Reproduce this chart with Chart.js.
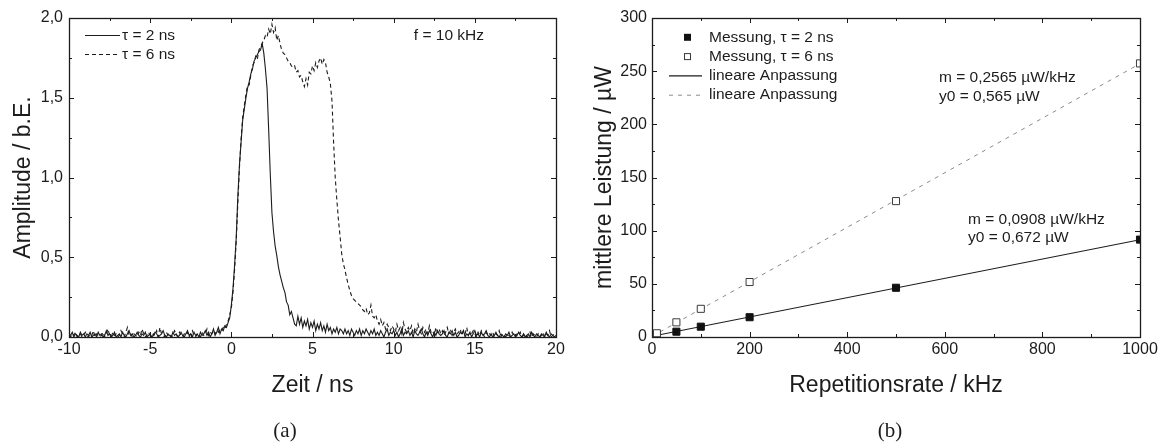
<!DOCTYPE html>
<html>
<head>
<meta charset="utf-8">
<title>Pulsform und mittlere Leistung</title>
<script src="https://cdn.jsdelivr.net/npm/chart.js@4.4.0/dist/chart.umd.min.js"></script>
<style>
  html, body { margin: 0; padding: 0; background: #fff; }
  .panel { position: absolute; top: 0; width: 581px; height: 448px; }
  #panel-a { left: 0; }
  #panel-b { left: 581px; }
</style>
</head>
<body>
<div class="panel" id="panel-a"><canvas id="chart-pulse" width="581" height="448"></canvas></div>
<div class="panel" id="panel-b"><canvas id="chart-power" width="581" height="448"></canvas></div>
<script>
// ---------- (a) Pulsform, abgetastet alle 0,1 ns ab -10 ns ----------
const TIME_START = -10;
const TIME_STEP = 0.1;
const TICKS_TIME = [-10, -5, 0, 5, 10, 15, 20];
const TICKS_AMP = [0, 0.5, 1.0, 1.5, 2.0];

// tau = 2 ns, one row per nanosecond
const AMP_TAU2 = [
  0.02,0.01,0.03,0.00,0.02,0.01,0.00,0.03,0.01,0.02,
  0.00,0.02,0.01,0.03,0.00,0.01,0.02,0.00,0.03,0.01,
  0.02,0.00,0.01,0.04,0.01,0.02,0.00,0.01,0.03,0.00,
  0.01,0.02,0.00,0.03,0.01,0.00,0.02,0.04,0.01,0.02,
  0.00,0.01,0.03,0.01,0.00,0.02,0.01,0.03,0.00,0.01,
  0.02,0.00,0.01,0.03,0.02,0.00,0.01,0.02,0.04,0.01,
  0.00,0.02,0.01,0.00,0.03,0.01,0.02,0.00,0.01,0.03,
  0.01,0.00,0.02,0.04,0.01,0.02,0.00,0.03,0.01,0.02,
  0.00,0.03,0.01,0.02,0.04,0.01,0.03,0.00,0.02,0.05,
  0.01,0.03,0.06,0.02,0.05,0.04,0.07,0.06,0.09,0.12,
  0.20,0.30,0.45,0.62,0.88,1.08,1.22,1.36,1.43,1.50,
  1.56,1.60,1.65,1.68,1.73,1.75,1.77,1.79,1.80,1.84,
  1.78,1.68,1.56,1.30,1.02,0.78,0.66,0.57,0.51,0.44,
  0.39,0.35,0.31,0.28,0.22,0.20,0.14,0.16,0.12,0.08,
  0.07,0.13,0.08,0.12,0.06,0.10,0.07,0.11,0.05,0.09,
  0.06,0.10,0.04,0.08,0.05,0.09,0.04,0.07,0.03,0.08,
  0.04,0.06,0.02,0.05,0.03,0.06,0.02,0.05,0.04,0.02,
  0.05,0.02,0.04,0.01,0.05,0.03,0.01,0.04,0.02,0.05,
  0.01,0.04,0.02,0.05,0.03,0.01,0.04,0.02,0.05,0.01,
  0.03,0.01,0.04,0.02,0.00,0.03,0.05,0.01,0.03,0.02,
  0.04,0.01,0.03,0.00,0.02,0.05,0.01,0.03,0.02,0.04,
  0.01,0.03,0.00,0.04,0.02,0.01,0.03,0.05,0.02,0.00,
  0.03,0.01,0.04,0.02,0.00,0.03,0.01,0.04,0.02,0.01,
  0.02,0.04,0.01,0.00,0.03,0.02,0.04,0.01,0.03,0.00,
  0.01,0.03,0.02,0.04,0.00,0.02,0.01,0.03,0.00,0.02,
  0.04,0.01,0.02,0.00,0.03,0.01,0.02,0.04,0.01,0.00,
  0.02,0.00,0.01,0.03,0.01,0.00,0.02,0.01,0.00,0.02,
  0.01,0.03,0.00,0.01,0.02,0.00,0.01,0.03,0.01,0.00,
  0.02,0.00,0.01,0.02,0.00,0.03,0.01,0.00,0.02,0.01,
  0.00,0.02,0.01,0.00,0.03,0.01,0.00,0.02,0.01,0.00,
  0.01
];

// tau = 6 ns
const AMP_TAU6 = [
  0.01,0.00,0.02,0.01,0.03,0.00,0.01,0.02,0.00,0.01,
  0.03,0.01,0.00,0.02,0.01,0.04,0.00,0.02,0.01,0.00,
  0.01,0.03,0.00,0.02,0.05,0.01,0.00,0.03,0.01,0.02,
  0.00,0.01,0.04,0.02,0.00,0.03,0.06,0.01,0.02,0.00,
  0.02,0.01,0.00,0.03,0.01,0.05,0.02,0.00,0.01,0.03,
  0.01,0.00,0.02,0.01,0.04,0.00,0.06,0.02,0.01,0.00,
  0.03,0.01,0.02,0.00,0.01,0.04,0.02,0.00,0.03,0.01,
  0.00,0.02,0.01,0.03,0.00,0.02,0.04,0.01,0.00,0.02,
  0.01,0.00,0.03,0.01,0.02,0.05,0.01,0.03,0.02,0.04,
  0.02,0.04,0.03,0.05,0.04,0.06,0.05,0.08,0.10,0.14,
  0.18,0.28,0.42,0.60,0.84,1.06,1.24,1.38,1.45,1.52,
  1.58,1.58,1.64,1.70,1.72,1.76,1.74,1.80,1.82,1.84,
  1.86,1.89,1.88,1.93,1.90,1.96,1.91,1.94,1.86,1.89,
  1.84,1.80,1.78,1.77,1.75,1.73,1.72,1.70,1.69,1.70,
  1.66,1.67,1.63,1.64,1.60,1.57,1.62,1.58,1.66,1.65,
  1.70,1.67,1.72,1.69,1.73,1.75,1.71,1.74,1.72,1.66,
  1.63,1.59,1.48,1.22,1.00,0.86,0.73,0.63,0.52,0.46,
  0.42,0.37,0.33,0.29,0.26,0.24,0.23,0.22,0.21,0.20,
  0.19,0.17,0.16,0.18,0.14,0.15,0.20,0.13,0.12,0.14,
  0.10,0.08,0.11,0.07,0.09,0.05,0.08,0.06,0.04,0.07,
  0.05,0.03,0.08,0.04,0.06,0.02,0.09,0.05,0.03,0.06,
  0.04,0.07,0.02,0.05,0.03,0.08,0.04,0.02,0.06,0.03,
  0.05,0.02,0.07,0.03,0.04,0.01,0.06,0.03,0.05,0.02,
  0.04,0.01,0.03,0.06,0.02,0.04,0.01,0.03,0.05,0.02,
  0.03,0.05,0.01,0.04,0.02,0.06,0.01,0.03,0.02,0.04,
  0.02,0.00,0.03,0.01,0.04,0.02,0.00,0.03,0.01,0.02,
  0.01,0.03,0.00,0.02,0.01,0.04,0.00,0.02,0.01,0.00,
  0.02,0.01,0.00,0.03,0.01,0.00,0.02,0.01,0.03,0.00,
  0.01,0.02,0.00,0.01,0.03,0.00,0.02,0.01,0.00,0.02,
  0.00,0.01,0.03,0.00,0.02,0.01,0.04,0.00,0.01,0.02,
  0.01
];

// ---------- (b) mittlere Leistung ueber Repetitionsrate ----------
const RATE_KHZ = [10, 50, 100, 200, 500, 1000];
const POWER_TAU2 = [1.5, 5.0, 9.7, 18.6, 46.3, 91.6];
const POWER_TAU6 = [3.5, 13.8, 26.5, 51.7, 127.8, 257.3];
const FIT_TAU2_M = 0.0908, FIT_TAU2_Y0 = 0.672;
const FIT_TAU6_M = 0.2565, FIT_TAU6_Y0 = 0.565;
const FIT_RANGE = [0, 1000];
const TICKS_RATE = [0, 200, 400, 600, 800, 1000];
const TICKS_POWER = [0, 50, 100, 150, 200, 250, 300];

// ---------- shared styling ----------
const FONT = '"Liberation Sans", Arial, sans-serif';
const INK = '#1c1c1c';
const LEGEND_FONT = '15.5px ' + FONT;
const DASH_CURVE = [4, 3];
const DASH_FIT = [4, 5];
const FIT_GREY = '#8a8a8a';

const comma = (v, d) => v.toFixed(d).replace('.', ',');

// closed box with inward major/minor ticks on all four sides
const framePlugin = {
  id: 'frame',
  afterDatasetsDraw(chart) {
    const { ctx, chartArea: a } = chart;
    const { x, y } = chart.scales;
    const mids = v => v.slice(1).map((w, i) => (w + v[i]) / 2);
    const xs = x.ticks.map(t => t.value);
    const ys = y.ticks.map(t => t.value);
    ctx.save();
    ctx.strokeStyle = INK;
    ctx.lineWidth = 1;
    ctx.beginPath();
    const tickX = (v, len) => {
      const p = Math.round(x.getPixelForValue(v)) + 0.5;
      ctx.moveTo(p, a.bottom); ctx.lineTo(p, a.bottom - len);
      ctx.moveTo(p, a.top); ctx.lineTo(p, a.top + len);
    };
    const tickY = (v, len) => {
      const p = Math.round(y.getPixelForValue(v)) + 0.5;
      ctx.moveTo(a.left, p); ctx.lineTo(a.left + len, p);
      ctx.moveTo(a.right, p); ctx.lineTo(a.right - len, p);
    };
    xs.forEach(v => tickX(v, 5));
    mids(xs).forEach(v => tickX(v, 3));
    ys.forEach(v => tickY(v, 5));
    mids(ys).forEach(v => tickY(v, 3));
    ctx.stroke();
    ctx.lineWidth = 1.3;
    ctx.strokeRect(Math.round(a.left) + 0.5, Math.round(a.top) + 0.5,
      Math.round(a.right - a.left), Math.round(a.bottom - a.top));
    ctx.restore();
  }
};

function textPlugin(id, draw) {
  return {
    id,
    afterDraw(chart) {
      const ctx = chart.ctx;
      ctx.save();
      ctx.fillStyle = INK;
      ctx.strokeStyle = INK;
      ctx.textBaseline = 'middle';
      ctx.font = LEGEND_FONT;
      draw(ctx);
      ctx.restore();
    }
  };
}

function caption(ctx, text, x) {
  ctx.font = '21px "Liberation Serif", "DejaVu Serif", serif';
  ctx.textAlign = 'center';
  ctx.fillText(text, x, 431);
}

function legendLine(ctx, x0, x1, y, dash, color, width) {
  ctx.save();
  ctx.strokeStyle = color;
  ctx.lineWidth = width;
  ctx.setLineDash(dash);
  ctx.beginPath();
  ctx.moveTo(x0, y); ctx.lineTo(x1, y);
  ctx.stroke();
  ctx.restore();
}

function axisTicks(values, fmt, pad) {
  return {
    font: { family: FONT, size: 16 },
    color: INK,
    padding: pad,
    maxRotation: 0,
    autoSkip: false,
    callback: fmt
  };
}

function axisTitle(text, pad) {
  return { display: true, text, color: INK, font: { family: FONT, size: 23 }, padding: pad };
}

const gridOff = { display: false, drawTicks: false };
const borderOff = { display: false };

// ---------- chart (a) ----------
const toPoints = arr => arr.map((a, i) => ({ x: TIME_START + i * TIME_STEP, y: a }));

new Chart(document.getElementById('chart-pulse'), {
  type: 'line',
  data: {
    datasets: [
      { label: 'τ = 2 ns', data: toPoints(AMP_TAU2), borderColor: INK, borderWidth: 1.1,
        pointRadius: 0, tension: 0, fill: false },
      { label: 'τ = 6 ns', data: toPoints(AMP_TAU6), borderColor: INK, borderWidth: 1.1,
        borderDash: DASH_CURVE, pointRadius: 0, tension: 0, fill: false }
    ]
  },
  options: {
    responsive: false,
    animation: false,
    events: [],
    layout: { padding: { top: 18, right: 25, left: 0, bottom: 0 } },
    plugins: { legend: { display: false }, tooltip: { enabled: false } },
    scales: {
      x: {
        type: 'linear', min: -10, max: 20,
        afterBuildTicks: s => { s.ticks = TICKS_TIME.map(v => ({ value: v })); },
        afterFit: s => { s.height = 111; },
        grid: gridOff, border: borderOff,
        ticks: axisTicks(TICKS_TIME, v => String(v), 3),
        title: axisTitle('Zeit / ns', { top: 0, bottom: 49 })
      },
      y: {
        type: 'linear', min: 0, max: 2,
        afterBuildTicks: s => { s.ticks = TICKS_AMP.map(v => ({ value: v })); },
        afterFit: s => { s.width = 69; },
        grid: gridOff, border: borderOff,
        ticks: axisTicks(TICKS_AMP, v => comma(v, 1), 6),
        title: axisTitle('Amplitude / b.E.', { top: 10, bottom: 0 })
      }
    }
  },
  plugins: [framePlugin, textPlugin('pulseText', ctx => {
    legendLine(ctx, 85, 120, 35.5, [], INK, 1.1);
    legendLine(ctx, 85, 120, 54.5, DASH_CURVE, INK, 1.1);
    ctx.textAlign = 'left';
    ctx.fillText('τ = 2 ns', 122, 35.5);
    ctx.fillText('τ = 6 ns', 122, 54.5);
    ctx.textAlign = 'right';
    ctx.fillText('f = 10 kHz', 484, 35.5);
    caption(ctx, '(a)', 285);
  })]
});

// ---------- chart (b) ----------
const pairs = (xs, ys) => xs.map((x, i) => ({ x, y: ys[i] }));
const fitLine = (m, y0) => FIT_RANGE.map(x => ({ x, y: m * x + y0 }));

new Chart(document.getElementById('chart-power'), {
  type: 'scatter',
  data: {
    datasets: [
      { label: 'Messung, τ = 6 ns', data: pairs(RATE_KHZ, POWER_TAU6), pointStyle: 'rect',
        pointRadius: 5, backgroundColor: '#fff', borderColor: '#3a3a3a', borderWidth: 1, clip: 0 },
      { label: 'Messung, τ = 2 ns', data: pairs(RATE_KHZ, POWER_TAU2), pointStyle: 'rect',
        pointRadius: 5, backgroundColor: '#111', borderColor: '#111', borderWidth: 1, clip: 0 },
      { label: 'lineare Anpassung', data: fitLine(FIT_TAU2_M, FIT_TAU2_Y0), showLine: true,
        pointRadius: 0, borderColor: INK, borderWidth: 1.1 },
      { label: 'lineare Anpassung', data: fitLine(FIT_TAU6_M, FIT_TAU6_Y0), showLine: true,
        pointRadius: 0, borderColor: FIT_GREY, borderWidth: 1, borderDash: DASH_FIT }
    ]
  },
  options: {
    responsive: false,
    animation: false,
    events: [],
    layout: { padding: { top: 18, right: 22, left: 0, bottom: 0 } },
    plugins: { legend: { display: false }, tooltip: { enabled: false } },
    scales: {
      x: {
        type: 'linear', min: 0, max: 1000,
        afterBuildTicks: s => { s.ticks = TICKS_RATE.map(v => ({ value: v })); },
        afterFit: s => { s.height = 111; },
        grid: gridOff, border: borderOff,
        ticks: axisTicks(TICKS_RATE, v => String(v), 3),
        title: axisTitle('Repetitionsrate / kHz', { top: 0, bottom: 49 })
      },
      y: {
        type: 'linear', min: 0, max: 300,
        afterBuildTicks: s => { s.ticks = TICKS_POWER.map(v => ({ value: v })); },
        afterFit: s => { s.width = 71; },
        grid: gridOff, border: borderOff,
        ticks: axisTicks(TICKS_POWER, v => String(v), 5),
        title: axisTitle('mittlere Leistung / µW', { top: 10, bottom: 0 })
      }
    }
  },
  plugins: [framePlugin, textPlugin('powerText', ctx => {
    const rows = [37.3, 56.6, 75.9, 95.2];
    // legend symbols
    ctx.fillStyle = '#111';
    ctx.fillRect(103, rows[0] - 3.5, 7, 7);
    ctx.fillStyle = '#fff';
    ctx.fillRect(103, rows[1] - 3.5, 7, 7);
    ctx.lineWidth = 1;
    ctx.strokeStyle = '#3a3a3a';
    ctx.strokeRect(103.5, rows[1] - 3, 6, 6);
    legendLine(ctx, 88, 121, rows[2], [], INK, 1.1);
    legendLine(ctx, 88, 121, rows[3], DASH_FIT, FIT_GREY, 1);
    ctx.fillStyle = INK;
    ctx.textAlign = 'left';
    ctx.fillText('Messung, τ = 2 ns', 128, rows[0]);
    ctx.fillText('Messung, τ = 6 ns', 128, rows[1]);
    ctx.fillText('lineare Anpassung', 128, rows[2]);
    ctx.fillText('lineare Anpassung', 128, rows[3]);
    // fit parameters
    ctx.fillText('m = ' + comma(FIT_TAU6_M, 4) + ' µW/kHz', 358, 77.7);
    ctx.fillText('y0 = ' + comma(FIT_TAU6_Y0, 3) + ' µW', 358, 96.7);
    ctx.fillText('m = ' + comma(FIT_TAU2_M, 4) + ' µW/kHz', 387, 219.3);
    ctx.fillText('y0 = ' + comma(FIT_TAU2_Y0, 3) + ' µW', 387, 238);
    caption(ctx, '(b)', 309);
  })]
});
</script>
</body>
</html>
